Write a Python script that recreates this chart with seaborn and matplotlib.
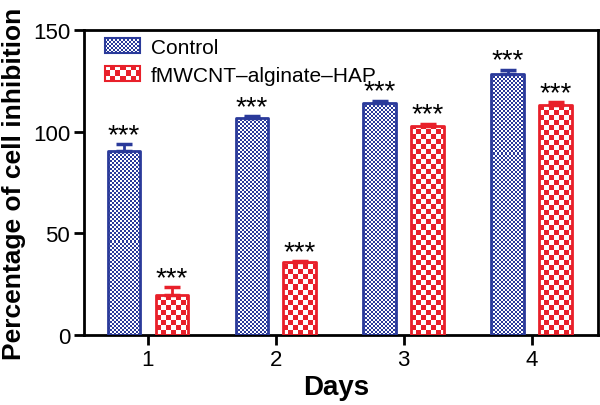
import numpy as np
import pandas as pd
import matplotlib
matplotlib.use('Agg')
import matplotlib.pyplot as plt
import seaborn as sns
from matplotlib.colors import ListedColormap, Normalize
from matplotlib.legend_handler import HandlerBase
from matplotlib.image import BboxImage
from matplotlib.transforms import Bbox, TransformedBbox
from matplotlib.patches import Rectangle

# datos
days = ['1', '2', '3', '4']
groups = ['Control', 'fMWCNT\u2013alginate\u2013HAP']
control = [90.5, 106.5, 114.0, 128.5]
control_err = [3.5, 1.0, 1.2, 2.0]
hap = [19.5, 36.0, 102.8, 113.0]
hap_err = [4.0, 0.5, 1.2, 1.5]
stars = ['***'] * 4

colors = ['#2a3a9a', '#e8202a']
cell_px = [2, 5]  # tamano del cuadro del damero en pixeles

sns.set_style('ticks')
plt.rcParams['font.family'] = ['Liberation Sans', 'DejaVu Sans']
plt.rcParams['text.color'] = 'black'
plt.rcParams['axes.labelcolor'] = 'black'

df = pd.DataFrame({
    'day': days * 2,
    'group': [groups[0]] * len(days) + [groups[1]] * len(days),
    'value': control + hap,
})


def checker(nrow, ncol):
    return np.indices((nrow, ncol)).sum(axis=0) % 2


class CheckerHandler(HandlerBase):
    def __init__(self, color, cell):
        super().__init__()
        self.color = color
        self.cell = cell

    def create_artists(self, legend, orig_handle, xdescent, ydescent,
                       width, height, fontsize, trans):
        scale = legend.figure.dpi / 72
        ncol = max(1, round(width * scale / self.cell))
        nrow = max(1, round(height * scale / self.cell))
        box = Bbox.from_bounds(-xdescent, -ydescent, width, height)
        img = BboxImage(TransformedBbox(box, trans),
                        cmap=ListedColormap(['white', self.color]),
                        norm=Normalize(0, 1), interpolation='nearest',
                        origin='lower')
        img.set_data(checker(nrow, ncol))
        rect = Rectangle((-xdescent, -ydescent), width, height,
                         facecolor='none', edgecolor=self.color,
                         linewidth=1.5, transform=trans)
        return [img, rect]


fig, ax = plt.subplots(figsize=(6, 4.06), dpi=100)
fig.subplots_adjust(left=0.14, right=0.9967, bottom=0.1724, top=0.9236)

sns.barplot(data=df, x='day', y='value', hue='group', hue_order=groups,
            palette=colors, saturation=1, width=0.75, gap=0.32,
            errorbar=None, legend=False, ax=ax)

ax.set_xlim(-0.5, 3.52)
ax.set_ylim(0, 150)

# barras de seaborn, agrupadas por nivel de hue (en orden)
bars_all = [p for p in ax.patches if isinstance(p, Rectangle)]
n = len(days)
groups_bars = [bars_all[:n], bars_all[n:2 * n]]
inv = ax.transData.inverted()

errs_all = [control_err, hap_err]
for i, cont in enumerate(groups_bars):
    cont = sorted(cont, key=lambda b: b.get_x())
    for bar in cont:
        bar.set_facecolor('none')
        bar.set_edgecolor(colors[i])
        bar.set_linewidth(2)
        bar.set_joinstyle('round')
        bar.set_zorder(3)
        x0, w, h = bar.get_x(), bar.get_width(), bar.get_height()
        (px0, py0), (px1, py1) = ax.transData.transform([(x0, 0), (x0 + w, h)])
        c = cell_px[i]
        ncol = int(np.ceil((px1 - px0) / c))
        nrow = int(np.ceil((py1 - py0) / c))
        # extension exacta en pixeles para cuadros uniformes (se recorta a la barra)
        x1, y1 = inv.transform((px0 + ncol * c, py0 + nrow * c))
        im = ax.imshow(checker(nrow, ncol),
                       cmap=ListedColormap(['white', colors[i]]),
                       vmin=0, vmax=1, extent=(x0, x1, 0, y1),
                       origin='lower', interpolation='nearest',
                       aspect='auto', zorder=2)
        im.set_clip_path(bar)
    xs = [b.get_x() + b.get_width() / 2 for b in cont]
    hs = [b.get_height() for b in cont]
    errs = errs_all[i]
    ax.errorbar(xs, hs, yerr=[np.zeros(len(errs)), errs], fmt='none',
                ecolor=colors[i], elinewidth=2, capsize=5.5,
                capthick=2.5, zorder=4)
    for x, v, e, s in zip(xs, hs, errs, stars):
        ax.annotate(s, (x, v + e), xytext=(0, 1.5), textcoords='offset points',
                    ha='center', va='baseline', fontsize=20, color='black')

ax.set_xlim(-0.5, 3.52)
ax.set_ylim(0, 150)
ax.set_yticks([0, 50, 100, 150])

# leyenda con damero
handles = [Rectangle((0, 0), 1, 1) for _ in groups]
leg = ax.legend(handles, groups,
                handler_map={handles[0]: CheckerHandler(colors[0], cell_px[0]),
                             handles[1]: CheckerHandler(colors[1], cell_px[1])},
                loc='upper left', bbox_to_anchor=(0.041, 0.975), frameon=False,
                fontsize=15, handlelength=1.7, handleheight=0.75,
                handletextpad=0.5, labelspacing=0.45, borderpad=0,
                borderaxespad=0)
for t in leg.get_texts():
    t.set_color('black')

for s in ax.spines.values():
    s.set_linewidth(2)
    s.set_color('black')
ax.tick_params(direction='out', length=7, width=2, labelsize=16, pad=3,
               colors='black')

ax.set_xlabel('Days', fontsize=20, fontweight='bold', color='black')
ax.set_ylabel('Percentage of cell inhibition', fontsize=19, fontweight='bold',
              color='black')
ax.yaxis.set_label_coords(-0.113, 0.5)
ax.xaxis.set_label_coords(0.491, -0.128)

fig.savefig('out.png', dpi=100)
